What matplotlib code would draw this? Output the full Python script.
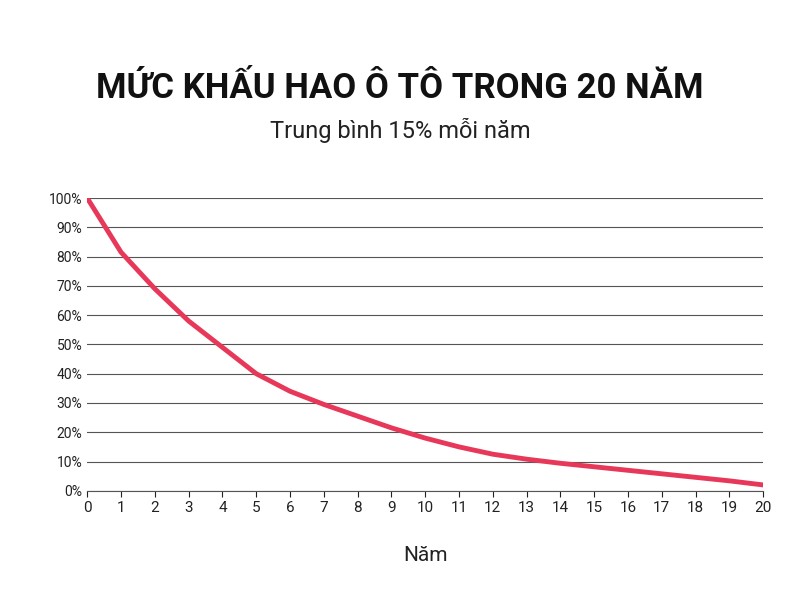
import matplotlib
matplotlib.use("Agg")
import matplotlib.pyplot as plt

years = list(range(21))
values = [100, 81.5, 69, 58, 49, 40, 34, 29.5, 25.5, 21.5, 18, 15, 12.5, 10.8, 9.4, 8.2, 7, 5.8, 4.6, 3.4, 2]
yticks = list(range(0, 101, 10))

plt.rcParams['font.family'] = ['Roboto', 'DejaVu Sans']
fig = plt.figure(figsize=(8, 6), dpi=100)
ax = fig.add_axes([0.109, 0.182, 0.845, 0.488])
ax.plot(years, values, color='#e8385a', lw=3.5, solid_capstyle='round')
ax.set_xlim(0, 20)
ax.set_ylim(0, 100)
ax.set_xticks(years)
ax.set_yticks(yticks)
ax.set_yticklabels([f"{v}%" for v in yticks])
ax.grid(axis='y', color='#555555', lw=0.8)
ax.set_axisbelow(True)
for s in ['top', 'right', 'left']:
    ax.spines[s].set_visible(False)
ax.spines['bottom'].set_color('#555555')
ax.tick_params(axis='y', length=0, labelsize=10, colors='#222222')
ax.tick_params(axis='x', length=4, labelsize=11, colors='#222222')
ax.set_xlabel("Năm", fontsize=15, labelpad=22, color='#222222')
fig.text(0.5, 0.853, "MỨC KHẤU HAO Ô TÔ TRONG 20 NĂM", ha='center', va='center',
         fontsize=25, fontweight='bold', color='#111111')
fig.text(0.5, 0.782, "Trung bình 15% mỗi năm", ha='center', va='center',
         fontsize=17, color='#222222')
fig.savefig("out.png")
